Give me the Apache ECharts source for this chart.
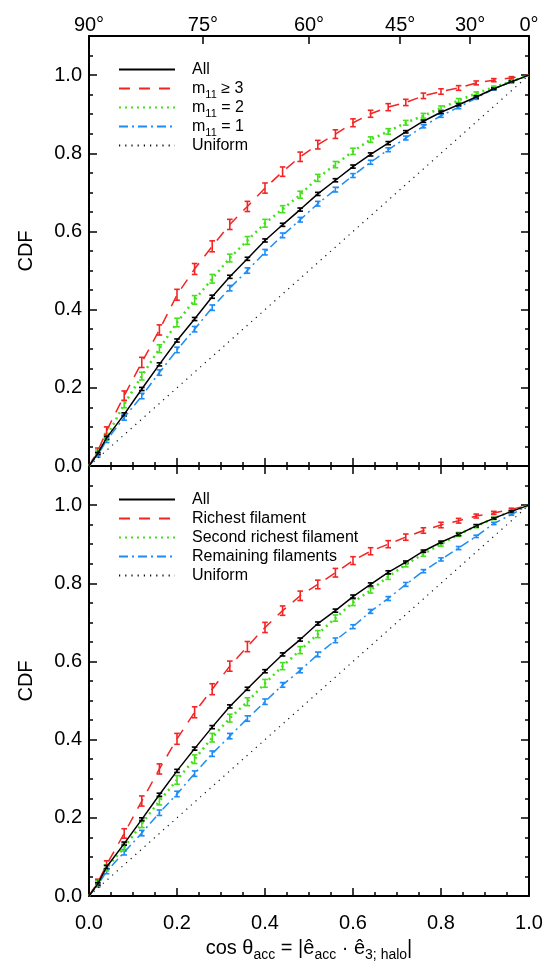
<!DOCTYPE html>
<html>
<head>
<meta charset="utf-8">
<script src="https://cdn.jsdelivr.net/npm/echarts@6/dist/echarts.min.js"></script>
<style>
html, body { margin: 0; padding: 0; background: #fff; }
#chart { width: 547px; height: 963px; }
</style>
</head>
<body>
<div id="chart"></div>
<script>
// cos(theta) bins
var xs = [0, 0.02, 0.04, 0.08, 0.12, 0.16, 0.20, 0.24, 0.28, 0.32, 0.36, 0.40, 0.44, 0.48,
          0.52, 0.56, 0.60, 0.64, 0.68, 0.72, 0.76, 0.80, 0.84, 0.88, 0.92, 0.96, 1.0];

// top panel: split by m11
var allTop   = [0, 0.032, 0.072, 0.132, 0.197, 0.260, 0.321, 0.376, 0.433, 0.484, 0.530, 0.577, 0.617, 0.656,
                0.696, 0.731, 0.766, 0.797, 0.826, 0.855, 0.882, 0.905, 0.924, 0.944, 0.965, 0.983, 1.0];
var redTop   = [0, 0.038, 0.090, 0.180, 0.265, 0.348, 0.438, 0.504, 0.562, 0.618, 0.664, 0.711, 0.753, 0.791,
                0.822, 0.849, 0.878, 0.901, 0.918, 0.930, 0.947, 0.958, 0.967, 0.980, 0.987, 0.993, 1.0];
var greenTop = [0, 0.035, 0.075, 0.158, 0.230, 0.300, 0.367, 0.425, 0.479, 0.532, 0.577, 0.621, 0.657, 0.694,
                0.737, 0.771, 0.805, 0.835, 0.856, 0.878, 0.896, 0.916, 0.935, 0.953, 0.969, 0.984, 1.0];
var blueTop  = [0, 0.028, 0.066, 0.124, 0.179, 0.239, 0.297, 0.350, 0.405, 0.455, 0.500, 0.547, 0.590, 0.630,
                0.671, 0.707, 0.743, 0.777, 0.809, 0.839, 0.869, 0.896, 0.918, 0.941, 0.965, 0.983, 1.0];

// bottom panel: split by filament
var allBot   = [0, 0.031, 0.074, 0.134, 0.196, 0.259, 0.320, 0.377, 0.432, 0.485, 0.530, 0.575, 0.618, 0.656,
                0.697, 0.730, 0.766, 0.797, 0.828, 0.854, 0.882, 0.905, 0.925, 0.947, 0.966, 0.984, 1.0];
var redBot   = [0, 0.035, 0.080, 0.160, 0.243, 0.325, 0.402, 0.470, 0.529, 0.588, 0.638, 0.687, 0.730, 0.768,
                0.797, 0.827, 0.858, 0.882, 0.900, 0.918, 0.935, 0.949, 0.960, 0.972, 0.980, 0.989, 1.0];
var greenBot = [0, 0.033, 0.072, 0.124, 0.185, 0.243, 0.297, 0.350, 0.405, 0.455, 0.497, 0.544, 0.588, 0.629,
                0.670, 0.711, 0.751, 0.782, 0.817, 0.848, 0.875, 0.900, 0.925, 0.946, 0.966, 0.984, 1.0];
var blueBot  = [0, 0.028, 0.063, 0.112, 0.161, 0.213, 0.261, 0.313, 0.364, 0.409, 0.454, 0.497, 0.540, 0.577,
                0.618, 0.654, 0.689, 0.728, 0.761, 0.797, 0.831, 0.861, 0.890, 0.920, 0.953, 0.976, 1.0];

// error bar half heights
var errAll   = [0, 0.003, 0.004, 0.004, 0.004, 0.004, 0.004, 0.004, 0.004, 0.004, 0.004, 0.004, 0.004, 0.004,
                0.004, 0.004, 0.004, 0.004, 0.004, 0.003, 0.003, 0.003, 0.003, 0.003, 0.002, 0.002, 0];
var errRed   = [0, 0.008, 0.010, 0.012, 0.013, 0.013, 0.014, 0.014, 0.014, 0.013, 0.013, 0.013, 0.012, 0.012,
                0.011, 0.011, 0.010, 0.009, 0.009, 0.008, 0.007, 0.007, 0.006, 0.005, 0.004, 0.003, 0];
var errGreen = [0, 0.006, 0.008, 0.009, 0.010, 0.010, 0.011, 0.011, 0.011, 0.010, 0.010, 0.010, 0.009, 0.009,
                0.009, 0.008, 0.008, 0.007, 0.007, 0.006, 0.006, 0.005, 0.005, 0.004, 0.003, 0.002, 0];
var errBlue  = [0, 0.005, 0.006, 0.007, 0.007, 0.007, 0.007, 0.007, 0.007, 0.007, 0.007, 0.007, 0.006, 0.006,
                0.006, 0.006, 0.005, 0.005, 0.005, 0.005, 0.004, 0.004, 0.004, 0.003, 0.003, 0.002, 0];

var uniformX = [0, 1];
var uniformY = [0, 1];

var angleTicks = [90, 75, 60, 45, 30, 0];
var topNames = ['All', 'm11 ≥ 3', 'm11 = 2', 'm11 = 1', 'Uniform'];
var botNames = ['All', 'Richest filament', 'Second richest filament', 'Remaining filaments', 'Uniform'];

var FONT = 'Liberation Sans';
var RED = '#f42424', GREEN = '#45e01c', BLUE = '#1d8cf5';

var chart = echarts.init(document.getElementById('chart'));

function pairs(xv, yv) {
    return xv.map(function (x, i) { return [x, yv[i]]; });
}
function triples(yv, ev) {
    return xs.map(function (x, i) { return [x, yv[i], ev[i]]; });
}

function lineSeries(name, data, color, width, dash, xi, yi) {
    return {
        name: name, type: 'line', xAxisIndex: xi, yAxisIndex: yi,
        data: data, symbol: 'none', animation: false,
        itemStyle: {color: color},
        lineStyle: {color: color, width: width, type: dash}
    };
}

function errSeries(yv, ev, color, xi, yi) {
    return {
        type: 'custom', xAxisIndex: xi, yAxisIndex: yi, animation: false,
        data: triples(yv, ev),
        renderItem: function (params, api) {
            var e = api.value(2);
            if (!e) return null;
            var x = api.value(0), y = api.value(1);
            var lo = api.coord([x, y - e]), hi = api.coord([x, y + e]);
            var w = 2.8;
            var st = {stroke: color, lineWidth: 1.6};
            return {type: 'group', children: [
                {type: 'line', shape: {x1: lo[0], y1: lo[1], x2: hi[0], y2: hi[1]}, style: st},
                {type: 'line', shape: {x1: lo[0] - w, y1: lo[1], x2: lo[0] + w, y2: lo[1]}, style: st},
                {type: 'line', shape: {x1: hi[0] - w, y1: hi[1], x2: hi[0] + w, y2: hi[1]}, style: st}
            ]};
        }
    };
}

var axisLineStyle = {color: '#000', width: 2};
var tickStyle = {color: '#000', width: 1.5};
var labelFont = {fontSize: 20, color: '#000', fontFamily: FONT};

function yAxisOf(grid, pos, interval, len, labels, name) {
    return {
        type: 'value', gridIndex: grid, position: pos, min: 0, max: 1.1, interval: interval,
        axisLine: {show: interval === 0.2, onZero: false, lineStyle: axisLineStyle},
        axisTick: {inside: true, length: len, lineStyle: tickStyle},
        axisLabel: Object.assign({show: labels, margin: 7, formatter: function (v) {
            return v > 1.05 ? '' : v.toFixed(1);
        }}, labelFont),
        splitLine: {show: false},
        name: name || '', nameLocation: 'middle', nameGap: 53,
        nameTextStyle: {fontSize: 20, color: '#000', fontFamily: FONT}
    };
}

function xAxisOf(grid, pos, labels, name) {
    return {
        type: 'value', gridIndex: grid, position: pos, min: 0, max: 1, interval: 0.2,
        axisLine: {onZero: false, lineStyle: axisLineStyle},
        axisTick: {inside: true, length: 8, lineStyle: tickStyle},
        minorTick: {show: true, splitNumber: 4, length: 4, lineStyle: tickStyle},
        axisLabel: Object.assign({show: labels, margin: 17, formatter: function (v) {
            return v.toFixed(1);
        }}, labelFont),
        splitLine: {show: false},
        name: name || '', nameLocation: 'middle', nameGap: 39,
        nameTextStyle: {
            fontSize: 20, color: '#000', fontFamily: FONT, lineHeight: 26,
            rich: {s: {fontSize: 14, color: '#000', fontFamily: FONT, padding: [14, 0, 0, 0]}}
        }
    };
}

var angleVals = angleTicks.map(function (a) { return Math.cos(a * Math.PI / 180); });

var legendBase = {
    orient: 'vertical', itemWidth: 56, itemHeight: 12, itemGap: -4,
    itemStyle: {color: 'rgba(0,0,0,0)', borderWidth: 0, opacity: 0},
    textStyle: {
        fontSize: 16, color: '#000', fontFamily: FONT, lineHeight: 23, padding: [0, 0, 0, 12],
        rich: {s: {fontSize: 11, color: '#000', fontFamily: FONT, padding: [12, 0, 0, 0]}}
    },
    formatter: function (name) { return name.replace('m11', 'm{s|11}'); },
    selectedMode: false
};

var option = {
    backgroundColor: '#fff',
    animation: false,
    grid: [
        {left: 89, top: 36, width: 440, height: 430},
        {left: 89, top: 466, width: 440, height: 436}
    ],
    legend: [
        Object.assign({}, legendBase, {left: 113, top: 53, data: topNames}),
        Object.assign({}, legendBase, {left: 113, top: 483, data: botNames})
    ],
    xAxis: [
        xAxisOf(0, 'bottom', false),
        {
            type: 'value', gridIndex: 0, position: 'top', min: 0, max: 1,
            axisLine: {onZero: false, lineStyle: axisLineStyle},
            axisTick: {inside: true, length: 8, lineStyle: tickStyle, customValues: angleVals},
            axisLabel: Object.assign({margin: 1, customValues: angleVals, formatter: function (v) {
                return Math.round(Math.acos(Math.min(1, v)) * 180 / Math.PI) + '°';
            }}, labelFont),
            splitLine: {show: false}
        },
        xAxisOf(1, 'bottom', true, 'cos θ{s|acc} = |ê{s|acc} · ê{s|3; halo}|'),
        xAxisOf(1, 'top', false)
    ],
    yAxis: [
        yAxisOf(0, 'left', 0.2, 8, true, 'CDF'),
        yAxisOf(0, 'left', 0.05, 4, false),
        yAxisOf(0, 'right', 0.2, 8, false),
        yAxisOf(0, 'right', 0.05, 4, false),
        yAxisOf(1, 'left', 0.2, 8, true, 'CDF'),
        yAxisOf(1, 'left', 0.05, 4, false),
        yAxisOf(1, 'right', 0.2, 8, false),
        yAxisOf(1, 'right', 0.05, 4, false)
    ],
    series: [
        lineSeries('Uniform', pairs(uniformX, uniformY), '#111', 1.2, [1.2, 5], 0, 0),
        lineSeries('m11 = 1', pairs(xs, blueTop), BLUE, 1.5, [9, 4, 2, 4], 0, 0),
        lineSeries('m11 = 2', pairs(xs, greenTop), GREEN, 2.5, [2, 4], 0, 0),
        lineSeries('m11 ≥ 3', pairs(xs, redTop), RED, 1.5, [11, 9], 0, 0),
        lineSeries('All', pairs(xs, allTop), '#000', 1.5, 'solid', 0, 0),
        errSeries(blueTop, errBlue, BLUE, 0, 0),
        errSeries(greenTop, errGreen, GREEN, 0, 0),
        errSeries(redTop, errRed, RED, 0, 0),
        errSeries(allTop, errAll, '#000', 0, 0),

        lineSeries('Uniform', pairs(uniformX, uniformY), '#111', 1.2, [1.2, 5], 2, 4),
        lineSeries('Remaining filaments', pairs(xs, blueBot), BLUE, 1.5, [9, 4, 2, 4], 2, 4),
        lineSeries('Second richest filament', pairs(xs, greenBot), GREEN, 2.5, [2, 4], 2, 4),
        lineSeries('Richest filament', pairs(xs, redBot), RED, 1.5, [11, 9], 2, 4),
        lineSeries('All', pairs(xs, allBot), '#000', 1.5, 'solid', 2, 4),
        errSeries(blueBot, errBlue, BLUE, 2, 4),
        errSeries(greenBot, errGreen, GREEN, 2, 4),
        errSeries(redBot, errRed, RED, 2, 4),
        errSeries(allBot, errAll, '#000', 2, 4)
    ]
};
chart.setOption(option);
</script>
</body>
</html>
